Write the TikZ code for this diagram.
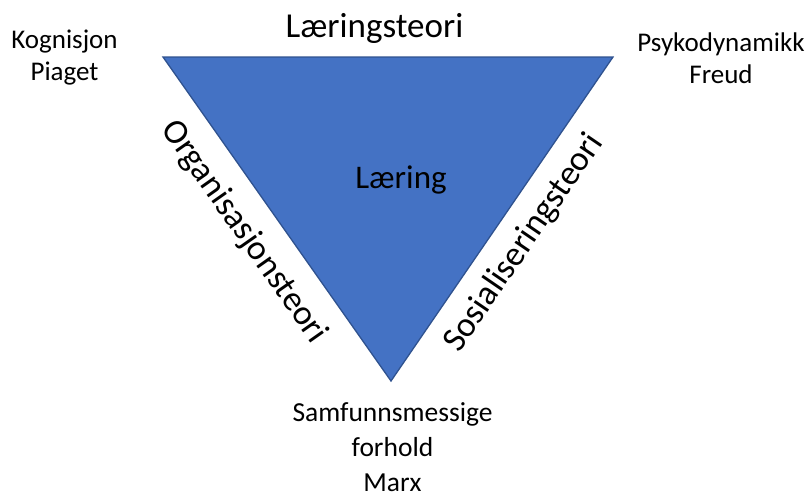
\documentclass[tikz,border=0pt]{standalone}
\usepackage{fontspec}
\setmainfont{Carlito}
\definecolor{triFill}{HTML}{4472C4}
\definecolor{triEdge}{HTML}{2F528F}
\begin{document}
\begin{tikzpicture}[x=1pt,y=-1pt,
  lbl/.style={inner sep=0pt,align=center,anchor=base,font=\fontsize{27}{32}\selectfont},
  side/.style={inner sep=0pt,font=\fontsize{35}{40}\selectfont}]
\useasboundingbox (0,0) rectangle (809,493);
% triangle corners
\coordinate (tl) at (163,57);
\coordinate (tr) at (613,57);
\coordinate (bt) at (391,381);
\fill[triFill] (tl) -- (tr) -- (bt) -- cycle;
\draw[triEdge,line width=1.3pt,line join=miter] (tl) -- (tr) -- (bt) -- cycle;
% edge and centre labels
\node[side,anchor=base] (top) at (374.5,37) {Læringsteori};
\node[side,anchor=base,font=\fontsize{33}{38}\selectfont] (mid) at (401,188) {Læring};
\node[side,rotate=-54.9] (left) at (244,232) {Organisasjonsteori};
\node[side,rotate=55.6] (right) at (524,243) {Sosialiseringsteori};
% corner labels (anchored on the baseline of the last line)
\node[lbl] (kog) at (64.5,80) {Kognisjon\\Piaget};
\node[lbl] (psy) at (721,83) {Psykodynamikk\\Freud};
\node[lbl,font=\fontsize{27.5}{35}\selectfont] (sam) at (392.5,491) {Samfunnsmessige\\forhold\\Marx};
\end{tikzpicture}
\end{document}
